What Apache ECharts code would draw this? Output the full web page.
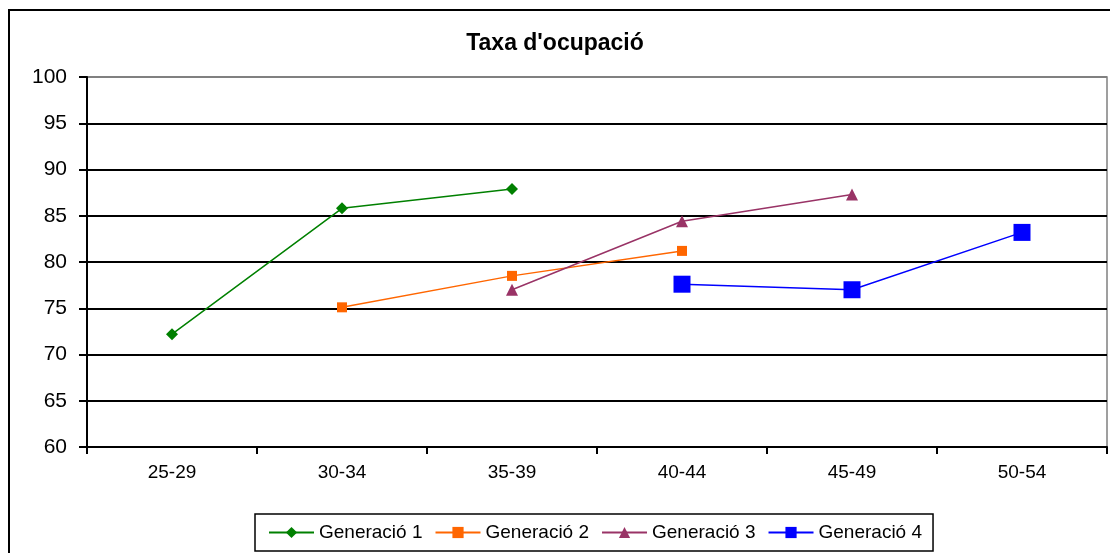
<!DOCTYPE html>
<html>
<head>
<meta charset="utf-8">
<script src="https://cdn.jsdelivr.net/npm/echarts@6/dist/echarts.min.js"></script>
<style>
  html, body { margin: 0; padding: 0; background: #fff; }
  #chart { width: 1110px; height: 553px; }
</style>
</head>
<body>
<div id="chart"></div>
<script>
// dades
const categories = ['25-29', '30-34', '35-39', '40-44', '45-49', '50-54'];
const gen1 = [72.2, 85.8, 87.9, '-', '-', '-'];
const gen2 = ['-', 75.1, 78.5, 81.2, '-', '-'];
const gen3 = ['-', '-', 77.0, 84.4, 87.3, '-'];
const gen4 = ['-', '-', '-', 77.6, 77.0, 83.2];
const seriesNames = ['Generació 1', 'Generació 2', 'Generació 3', 'Generació 4'];

const chart = echarts.init(document.getElementById('chart'));
const font = '"Liberation Sans", Arial, sans-serif';

// línia de la graella: la de dalt és gris (vora de l'àrea)
const gridColors = ['#000', '#000', '#000', '#000', '#000', '#000', '#000', '#000', '#808080'];

const lineConfig = {
  type: 'line',
  lineStyle: { width: 1.5 },
  animation: false
};

chart.setOption({
  backgroundColor: '#fff',
  title: {
    text: "Taxa d'ocupació",
    left: 'center',
    top: 27,
    textStyle: { fontFamily: font, fontSize: 23, fontWeight: 'bold', color: '#000' }
  },
  legend: {
    data: seriesNames,
    left: 255,
    top: 514,
    padding: [9, 11, 9, 13],
    borderColor: '#000',
    borderWidth: 1.5,
    itemWidth: 45,
    itemHeight: 14,
    itemGap: 12,
    textStyle: { fontFamily: font, fontSize: 19, color: '#000' }
  },
  grid: {
    left: 87,
    right: 3,
    top: 77,
    bottom: 106,
    show: true,
    borderColor: '#808080',
    borderWidth: 1.5
  },
  xAxis: {
    type: 'category',
    data: categories,
    boundaryGap: true,
    axisLine: { lineStyle: { color: '#000', width: 2 } },
    axisTick: { show: true, inside: false, length: 7, lineStyle: { color: '#000', width: 2 } },
    axisLabel: { fontFamily: font, fontSize: 19, color: '#000', margin: 16 }
  },
  yAxis: {
    type: 'value',
    min: 60,
    max: 100,
    interval: 5,
    axisLine: { show: true, lineStyle: { color: '#000', width: 2 } },
    axisTick: { show: true, length: 8, lineStyle: { color: '#000', width: 2 } },
    axisLabel: { fontFamily: font, fontSize: 21, color: '#000', margin: 20 },
    splitLine: { show: true, lineStyle: { color: gridColors, width: 2 } }
  },
  series: [
    {
      ...lineConfig,
      name: seriesNames[0],
      data: gen1,
      color: '#008000',
      symbol: 'diamond',
      symbolSize: 12
    },
    {
      ...lineConfig,
      name: seriesNames[1],
      data: gen2,
      color: '#FF6600',
      symbol: 'rect',
      symbolSize: 10
    },
    {
      ...lineConfig,
      name: seriesNames[2],
      data: gen3,
      color: '#993366',
      symbol: 'triangle',
      symbolSize: 12
    },
    {
      ...lineConfig,
      name: seriesNames[3],
      data: gen4,
      color: '#0000FF',
      symbol: 'rect',
      symbolSize: 17
    }
  ],
  graphic: [
    {
      type: 'rect',
      shape: { x: 9, y: 10, width: 1200, height: 700 },
      style: { fill: null, stroke: '#000', lineWidth: 2 },
      silent: true
    }
  ]
});
</script>
</body>
</html>
